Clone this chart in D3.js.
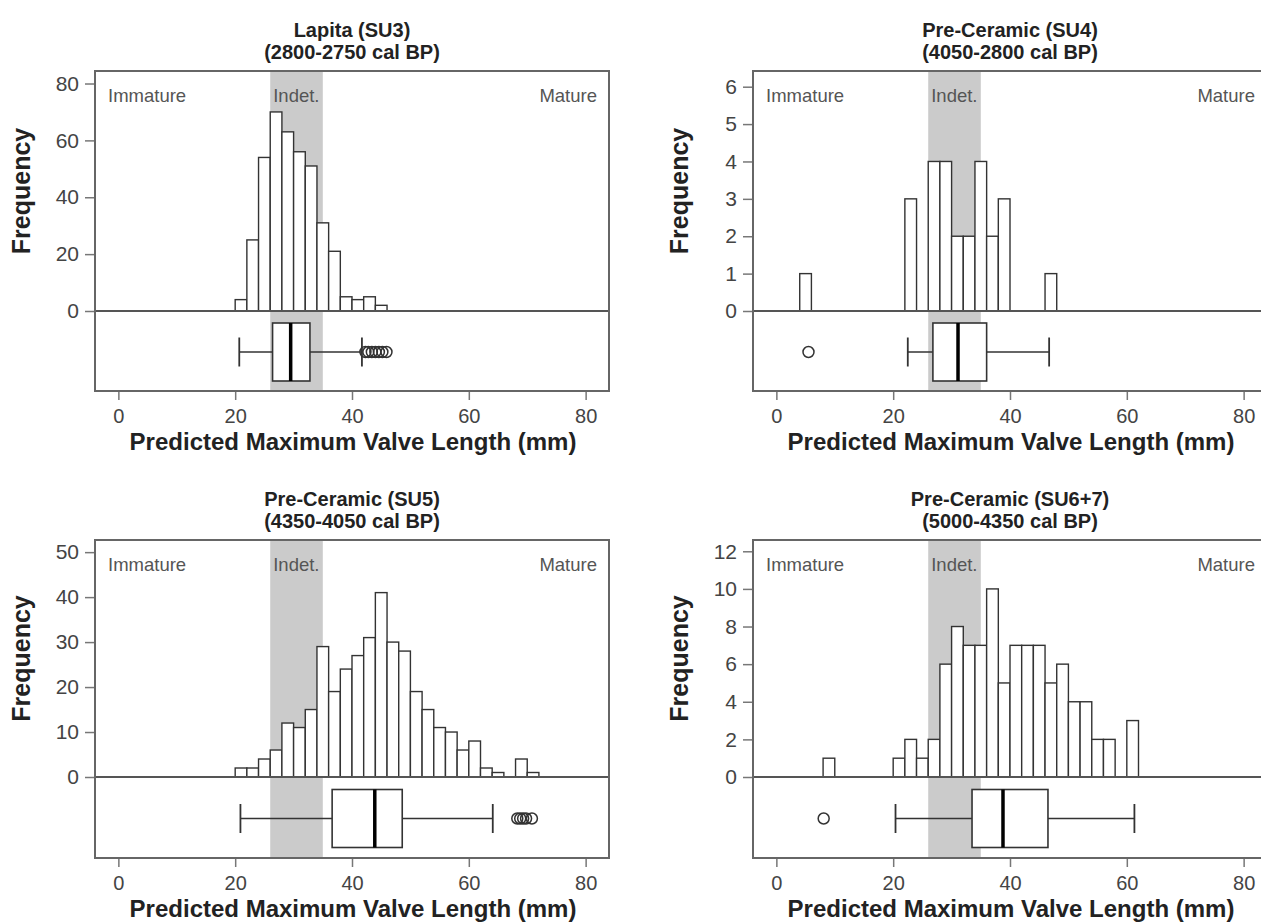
<!DOCTYPE html>
<html>
<head>
<meta charset="utf-8">
<title>Predicted maximum valve length</title>
<script src="https://cdn.jsdelivr.net/npm/d3@7"></script>
<style>
  body { margin: 0; background: #fff; }
  text { font-family: "Liberation Sans", Arial, sans-serif; }
</style>
</head>
<body>
<svg id="chart" width="1261" height="923"></svg>
<script>
// ---- data ----
const titles = [
  ["Lapita (SU3)", "(2800-2750 cal BP)"],
  ["Pre-Ceramic (SU4)", "(4050-2800 cal BP)"],
  ["Pre-Ceramic (SU5)", "(4350-4050 cal BP)"],
  ["Pre-Ceramic (SU6+7)", "(5000-4350 cal BP)"]
];
const binWidth = 2;                    // mm
const binStarts = [20, 4, 20, 8];      // lower edge of first bin
const su3Counts = [4, 25, 54, 70, 63, 56, 51, 31, 21, 5, 4, 5, 2];
const su4Counts = [1, 0, 0, 0, 0, 0, 0, 0, 0, 3, 0, 4, 4, 2, 2, 4, 2, 3, 0, 0, 0, 1];
const su5Counts = [2, 2, 4, 6, 12, 11, 15, 29, 19, 24, 27, 31, 41, 30, 28, 19, 15, 11, 10, 6, 8, 2, 1, 0, 4, 1];
const su67Counts = [1, 0, 0, 0, 0, 0, 1, 2, 1, 2, 6, 8, 7, 7, 10, 5, 7, 7, 7, 5, 6, 4, 4, 2, 2, 0, 3];
const counts = [su3Counts, su4Counts, su5Counts, su67Counts];

// boxplot: [lower whisker, Q1, median, Q3, upper whisker]
const su3Box = [20.7, 26.4, 29.5, 32.8, 41.7];
const su4Box = [22.5, 26.8, 31.1, 36.0, 46.7];
const su5Box = [20.9, 36.6, 43.9, 48.6, 64.1];
const su67Box = [20.4, 33.5, 38.8, 46.5, 61.3];
const boxes = [su3Box, su4Box, su5Box, su67Box];
const su3Out = [42.3, 42.8, 43.4, 44.0, 44.6, 45.2, 45.9];
const su4Out = [5.5];
const su5Out = [68.3, 68.8, 69.3, 69.8, 70.8];
const su67Out = [8.1];
const outliers = [su3Out, su4Out, su5Out, su67Out];

const xTicks = [0, 20, 40, 60, 80];
const yTicks = [
  [0, 20, 40, 60, 80],
  [0, 1, 2, 3, 4, 5, 6],
  [0, 10, 20, 30, 40, 50],
  [0, 2, 4, 6, 8, 10, 12]
];
const yMax = [84.4, 6.42, 52.7, 12.6];
const indetBand = [26, 35];
const zoneLabels = ["Immature", "Indet.", "Mature"];

// ---- layout ----
const colLeft = [95, 753];
const panelW = 514;
const rowTop = [71, 540];
const rowZero = [311, 777];
const rowBottom = [391, 858];

const svg = d3.select("#chart");

titles.forEach(function(t, i) {
  const col = i % 2, row = Math.floor(i / 2);
  const left = colLeft[col], right = left + panelW;
  const top = rowTop[row], zero = rowZero[row], bottom = rowBottom[row];

  const x = d3.scaleLinear().domain([-4, 84]).range([left, right]);
  const y = d3.scaleLinear().domain([0, yMax[i]]).range([zero, top]);
  const g = svg.append("g");

  // grey "Indet." band over the whole frame
  g.append("rect")
    .attr("x", x(indetBand[0])).attr("y", top)
    .attr("width", x(indetBand[1]) - x(indetBand[0]))
    .attr("height", bottom - top)
    .attr("fill", "#cbcbcb");

  // zone labels
  g.append("text").attr("x", left + 13).attr("y", top + 31)
    .attr("font-size", 18.5).attr("fill", "#555").text(zoneLabels[0]);
  g.append("text").attr("x", x(indetBand[0]) + 3).attr("y", top + 31)
    .attr("font-size", 18.5).attr("fill", "#555").text(zoneLabels[1]);
  g.append("text").attr("x", right - 12).attr("y", top + 31)
    .attr("text-anchor", "end")
    .attr("font-size", 18.5).attr("fill", "#555").text(zoneLabels[2]);

  // histogram bars
  const bins = counts[i].map(function(c, k) {
    return { x0: binStarts[i] + k * binWidth, n: c };
  }).filter(function(d) { return d.n > 0; });

  g.selectAll("rect.bar").data(bins).enter().append("rect")
    .attr("class", "bar")
    .attr("x", function(d) { return x(d.x0); })
    .attr("width", function(d) { return x(d.x0 + binWidth) - x(d.x0); })
    .attr("y", function(d) { return y(d.n); })
    .attr("height", function(d) { return y(0) - y(d.n); })
    .attr("fill", "#fff").attr("stroke", "#333").attr("stroke-width", 1.4);

  // zero line separating histogram and boxplot
  g.append("line")
    .attr("x1", left).attr("x2", right).attr("y1", zero).attr("y2", zero)
    .attr("stroke", "#555").attr("stroke-width", 1.8);

  // boxplot
  const b = boxes[i];
  const cy = (zero + bottom) / 2 + 1;
  const bh = 58;
  g.append("line").attr("x1", x(b[0])).attr("x2", x(b[1])).attr("y1", cy).attr("y2", cy)
    .attr("stroke", "#333").attr("stroke-width", 1.5);
  g.append("line").attr("x1", x(b[3])).attr("x2", x(b[4])).attr("y1", cy).attr("y2", cy)
    .attr("stroke", "#333").attr("stroke-width", 1.5);
  [b[0], b[4]].forEach(function(v) {
    g.append("line").attr("x1", x(v)).attr("x2", x(v))
      .attr("y1", cy - bh / 4).attr("y2", cy + bh / 4)
      .attr("stroke", "#333").attr("stroke-width", 1.8);
  });
  g.append("rect")
    .attr("x", x(b[1])).attr("y", cy - bh / 2)
    .attr("width", x(b[3]) - x(b[1])).attr("height", bh)
    .attr("fill", "#fff").attr("stroke", "#333").attr("stroke-width", 1.6);
  g.append("line").attr("x1", x(b[2])).attr("x2", x(b[2]))
    .attr("y1", cy - bh / 2).attr("y2", cy + bh / 2)
    .attr("stroke", "#000").attr("stroke-width", 3.5);
  g.selectAll("circle.out").data(outliers[i]).enter().append("circle")
    .attr("class", "out")
    .attr("cx", function(d) { return x(d); }).attr("cy", cy).attr("r", 5.5)
    .attr("fill", "none").attr("stroke", "#333").attr("stroke-width", 1.5);

  // frame
  g.append("rect")
    .attr("x", left).attr("y", top)
    .attr("width", right - left).attr("height", bottom - top)
    .attr("fill", "none").attr("stroke", "#666").attr("stroke-width", 2);

  // x axis
  const xAxis = d3.axisBottom(x).tickValues(xTicks).tickSize(8).tickPadding(9);
  const ax = g.append("g").attr("transform", "translate(0," + (bottom + 1) + ")").call(xAxis);
  ax.select(".domain").remove();
  ax.selectAll("line").attr("stroke", "#777").attr("stroke-width", 1.5);
  ax.selectAll("text").attr("font-size", 20).attr("fill", "#444")
    .attr("font-family", "Liberation Sans, Arial, sans-serif");

  // y axis (histogram part only)
  const yAxis = d3.axisLeft(y).tickValues(yTicks[i]).tickFormat(d3.format("d"))
    .tickSize(9).tickPadding(6);
  const ay = g.append("g").attr("transform", "translate(" + (left - 1) + ",0)").call(yAxis);
  ay.select(".domain").remove();
  ay.selectAll("line").attr("stroke", "#777").attr("stroke-width", 1.5);
  ay.selectAll("text").attr("font-size", 21).attr("fill", "#444")
    .attr("font-family", "Liberation Sans, Arial, sans-serif");

  // axis titles
  g.append("text")
    .attr("x", (left + right) / 2 + 1).attr("y", bottom + 59)
    .attr("text-anchor", "middle").attr("font-size", 24).attr("font-weight", "bold")
    .attr("fill", "#222").text("Predicted Maximum Valve Length (mm)");
  g.append("text")
    .attr("transform", "translate(" + (left - 65) + "," + ((top + zero) / 2) + ") rotate(-90)")
    .attr("text-anchor", "middle").attr("font-size", 25).attr("font-weight", "bold")
    .attr("fill", "#222").text("Frequency");

  // panel title
  g.append("text")
    .attr("x", (left + right) / 2).attr("y", top - 34)
    .attr("text-anchor", "middle").attr("font-size", 20).attr("font-weight", "bold")
    .attr("fill", "#222").text(t[0]);
  g.append("text")
    .attr("x", (left + right) / 2).attr("y", top - 12)
    .attr("text-anchor", "middle").attr("font-size", 20).attr("font-weight", "bold")
    .attr("fill", "#222").text(t[1]);
});
</script>
</body>
</html>
